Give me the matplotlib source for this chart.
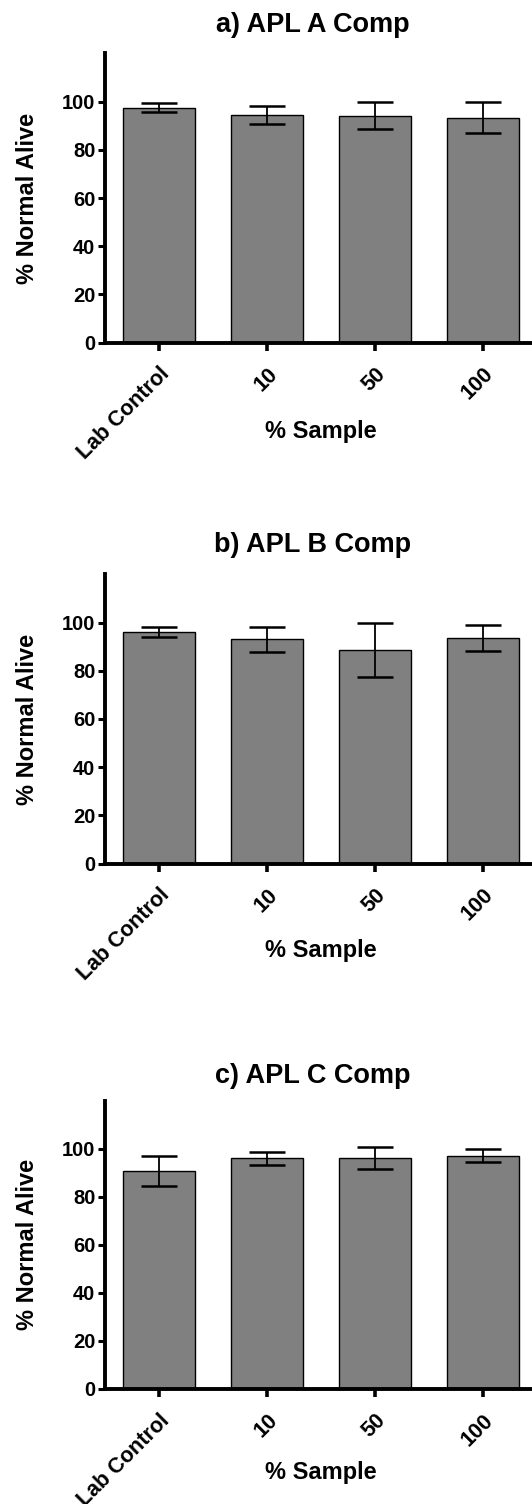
import matplotlib
matplotlib.use("Agg")
import matplotlib.pyplot as plt

plt.rcParams['font.family'] = ['Liberation Sans', 'DejaVu Sans']
plt.rcParams['font.weight'] = 'bold'

# Data
categories = ["Lab Control", "10", "50", "100"]
titles = ["a) APL A Comp", "b) APL B Comp", "c) APL C Comp"]

apl_a_mean = [97.4, 94.5, 94.2, 93.2]
apl_a_err = [1.8, 3.7, 5.7, 6.4]
apl_b_mean = [96.0, 93.1, 88.7, 93.6]
apl_b_err = [2.1, 5.2, 11.2, 5.2]
apl_c_mean = [90.7, 96.0, 96.1, 97.0]
apl_c_err = [6.3, 2.6, 4.6, 2.7]

means = [apl_a_mean, apl_b_mean, apl_c_mean]
errs = [apl_a_err, apl_b_err, apl_c_err]

W, H = 532, 1504
fig = plt.figure(figsize=(W / 100, H / 100), dpi=100)

# axes boxes in pixels: (left, top, right, bottom)
boxes = [(105, 53.3, 537, 342.7),
         (105, 574.3, 537, 863.7),
         (105, 1100.7, 537, 1389)]
title_gap = [21.6, 22.0, 17.4]   # px from axis top to title baseline
xlabel_gap = [89, 87, 84]        # px from axis to x label centre

for i, (l, t, r, b) in enumerate(boxes):
    ax = fig.add_axes([l / W, 1 - b / H, (r - l) / W, (b - t) / H])
    x = range(len(categories))
    ax.bar(x, means[i], width=0.667, color='#808080', edgecolor='black',
           linewidth=1.0, zorder=2)
    ax.errorbar(x, means[i], yerr=errs[i], fmt='none', ecolor='black',
                elinewidth=1.3, capsize=13, capthick=1.8, zorder=3)

    ax.set_xlim(-0.5, 3.5)
    ax.set_ylim(0, 120)
    ax.set_yticks([0, 20, 40, 60, 80, 100])
    ax.set_xticks(list(x))
    ax.set_xticklabels(categories, rotation=45, ha='right',
                       rotation_mode='anchor', fontsize=15.5, fontweight='bold')
    ax.tick_params(axis='y', labelsize=14.5, width=2.2, length=5, pad=2)
    ax.tick_params(axis='x', width=2.6, length=6, pad=9)
    for lab in ax.get_yticklabels():
        lab.set_fontweight('bold')

    for s in ['top', 'right']:
        ax.spines[s].set_visible(False)
    for s in ['left', 'bottom']:
        ax.spines[s].set_linewidth(2.8)

    ax.set_ylabel("% Normal Alive", fontsize=17, fontweight='bold')
    ax.yaxis.set_label_coords(-0.152, 0.5)
    ax.set_xlabel("% Sample", fontsize=17, fontweight='bold', va='center')
    ax.xaxis.set_label_coords(0.5, -xlabel_gap[i] / (b - t))
    ax.set_title(titles[i], fontsize=19.5, fontweight='bold',
                 pad=title_gap[i] * 0.72, x=0.48)

fig.savefig("out.png", dpi=100)
